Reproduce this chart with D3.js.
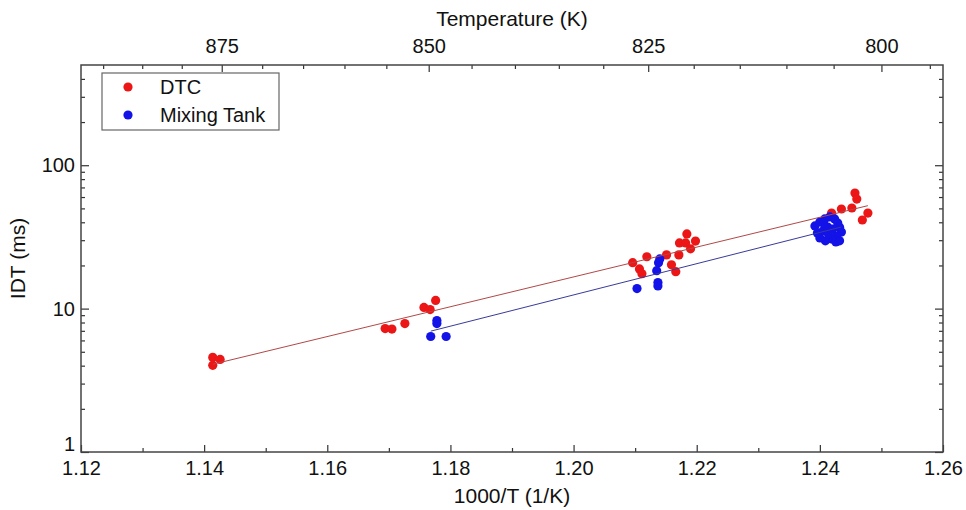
<!DOCTYPE html>
<html>
<head>
<meta charset="utf-8">
<script src="https://cdn.jsdelivr.net/npm/d3@7"></script>
<style>
  body { margin: 0; background: #fff; }
  svg { font-family: "Liberation Sans", Arial, sans-serif; }
  .axis path { display: none; }
  .axis line { stroke: #333; stroke-width: 1.2; }
  .axis text { fill: #111; font-size: 20px; }
</style>
</head>
<body>
<script>
// DTC points: 1000/T (1/K) and ignition delay (ms)
const dtcInvT = [1.1414, 1.1426, 1.1414,
  1.1694, 1.1705, 1.1726, 1.1757, 1.1767, 1.1776,
  1.2096, 1.2107, 1.2111, 1.2119, 1.2151, 1.2159, 1.2166, 1.2171, 1.2172, 1.2182, 1.2184, 1.2198, 1.2190,
  1.2457, 1.2460, 1.2452, 1.2435, 1.2419, 1.2478, 1.2469]
const dtcIdt = [4.57, 4.42, 4.02,
  7.26, 7.20, 7.87, 10.2, 9.84, 11.4,
  20.9, 18.9, 17.5, 23.0, 23.7, 20.2, 18.1, 23.7, 28.7, 28.7, 33.2, 29.6, 26.1,
  63.9, 58.1, 50.3, 49.5, 46.4, 46.4, 41.5]

// Mixing tank points
const tankInvT = [1.1778, 1.1778, 1.1768, 1.1793,
  1.2140, 1.2138, 1.2135, 1.2137, 1.2137, 1.2103,
  1.2392, 1.2400, 1.2408, 1.2416, 1.2424, 1.2429, 1.2432, 1.2435, 1.2427, 1.2419,
  1.2409, 1.2400, 1.2405, 1.2413, 1.2421, 1.2414, 1.2426, 1.2396, 1.2432, 1.2406]
const tankIdt = [8.26, 7.87, 6.39, 6.39,
  22.2, 20.9, 18.4, 15.2, 14.4, 13.8,
  37.7, 40.2, 42.2, 43.6, 42.2, 39.5, 37.0, 34.2, 32.1, 30.6,
  29.7, 31.1, 34.8, 37.0, 35.9, 33.2, 29.2, 33.7, 29.7, 39.5]

const xMajor = [1.12, 1.14, 1.16, 1.18, 1.20, 1.22, 1.24, 1.26]
const xMinor = [1.13, 1.15, 1.17, 1.19, 1.21, 1.23, 1.25]
const tempMajor = [875, 850, 825, 800]
const tempMinor = [890, 885, 880, 870, 865, 860, 855, 845, 840, 835, 830, 820, 815, 810, 805, 795]
const yMajor = [1, 10, 100]
const yMinor = [2, 3, 4, 5, 6, 7, 8, 9, 20, 30, 40, 50, 60, 70, 80, 90, 200, 300, 400]

const series = [
  { name: 'DTC', xs: dtcInvT, ys: dtcIdt, color: '#ec1616', line: '#b04848' },
  { name: 'Mixing Tank', xs: tankInvT, ys: tankIdt, color: '#1313e8', line: '#3a3a9a' }
]

const width = 966, height = 510
var margin = { top: 65, right: 23, bottom: 58, left: 81 }
  , w = width - margin.left - margin.right
  , h = height - margin.top - margin.bottom

var svg = d3.select('body').append('svg')
    .attr('width', width)
    .attr('height', height)
  .append('g')
    .attr('transform', 'translate(' + margin.left + ',' + margin.top + ')')

var xScale = d3.scaleLinear().domain([1.12, 1.26]).range([0, w])
var yScale = d3.scaleLog().domain([1, 500]).range([h, 0])

// bottom axis, ticks pointing inward
svg.append('g').attr('class', 'axis')
    .attr('transform', 'translate(0,' + h + ')')
    .call(d3.axisBottom(xScale).tickValues(xMinor).tickSize(-4).tickFormat(''))
svg.append('g').attr('class', 'axis')
    .attr('transform', 'translate(0,' + h + ')')
    .call(d3.axisBottom(xScale).tickValues(xMajor).tickSize(-7).tickPadding(9)
      .tickFormat(d3.format('.2f')))

// top axis in temperature
svg.append('g').attr('class', 'axis')
    .call(d3.axisTop(xScale).tickValues(tempMinor.map(t => 1000 / t)).tickSize(-4).tickFormat(''))
svg.append('g').attr('class', 'axis')
    .call(d3.axisTop(xScale).tickValues(tempMajor.map(t => 1000 / t)).tickSize(-7).tickPadding(12)
      .tickFormat(d => Math.round(1000 / d)))

// left and right log axes
svg.append('g').attr('class', 'axis')
    .call(d3.axisLeft(yScale).tickValues(yMinor).tickSize(-4).tickFormat(''))
svg.append('g').attr('class', 'axis')
    .call(d3.axisLeft(yScale).tickValues(yMajor).tickSize(-8).tickPadding(6).tickFormat(d3.format('d')))
  .selectAll('text')
    .filter(d => d === 1)
    .attr('dy', '-0.1em')
svg.append('g').attr('class', 'axis')
    .attr('transform', 'translate(' + w + ',0)')
    .call(d3.axisRight(yScale).tickValues(yMinor).tickSize(-4).tickFormat(''))
svg.append('g').attr('class', 'axis')
    .attr('transform', 'translate(' + w + ',0)')
    .call(d3.axisRight(yScale).tickValues(yMajor).tickSize(-8).tickFormat(''))

// frame
svg.append('rect')
    .attr('width', w).attr('height', h)
    .attr('fill', 'none').attr('stroke', '#444').attr('stroke-width', 1.5)

// points
series.forEach(s => {
  svg.append('g').selectAll('circle')
    .data(s.xs.map((x, i) => [x, s.ys[i]]))
    .enter()
      .append('circle')
      .attr('cx', d => xScale(d[0]))
      .attr('cy', d => yScale(d[1]))
      .attr('r', 4.6)
      .attr('fill', s.color)
})

// least squares fit of log10(IDT) against 1000/T
function fit(xs, ys) {
  const ly = ys.map(v => Math.log10(v))
  const mx = d3.mean(xs), my = d3.mean(ly)
  let num = 0, den = 0
  xs.forEach((x, i) => { num += (x - mx) * (ly[i] - my); den += (x - mx) * (x - mx) })
  const b = num / den
  return x => Math.pow(10, my + b * (x - mx))
}

var line = d3.line()
    .x(d => xScale(d[0]))
    .y(d => yScale(d[1]))

series.forEach(s => {
  const f = fit(s.xs, s.ys)
  const ext = d3.extent(s.xs)
  svg.append('path')
    .attr('d', line(ext.map(x => [x, f(x)])))
    .attr('fill', 'none')
    .attr('stroke', s.line)
    .attr('stroke-width', 1)
})

// axis titles
svg.append('text')
    .attr('x', w / 2).attr('y', h + 51)
    .attr('text-anchor', 'middle').attr('font-size', 21).attr('fill', '#111')
    .text('1000/T (1/K)')
svg.append('text')
    .attr('x', w / 2).attr('y', -39)
    .attr('text-anchor', 'middle').attr('font-size', 21).attr('fill', '#111')
    .text('Temperature (K)')
svg.append('text')
    .attr('transform', 'translate(-56,' + (h / 2) + ') rotate(-90)')
    .attr('text-anchor', 'middle').attr('font-size', 21).attr('fill', '#111')
    .text('IDT (ms)')

// legend
const legend = svg.append('g').attr('transform', 'translate(21,8)')
legend.append('rect')
    .attr('width', 177).attr('height', 57)
    .attr('fill', '#fff').attr('stroke', '#666').attr('stroke-width', 1.2)
legend.selectAll('.legend-dot')
  .data(series)
  .enter()
    .append('circle')
    .attr('cx', 26)
    .attr('cy', (_, i) => 14 + 28 * i)
    .attr('r', 4.6)
    .attr('fill', d => d.color)
legend.selectAll('.legend-text')
  .data(series)
  .enter()
    .append('text')
    .attr('x', 58)
    .attr('y', (_, i) => 21 + 28 * i)
    .attr('font-size', 20)
    .attr('fill', '#111')
    .text(d => d.name)
</script>
</body>
</html>
